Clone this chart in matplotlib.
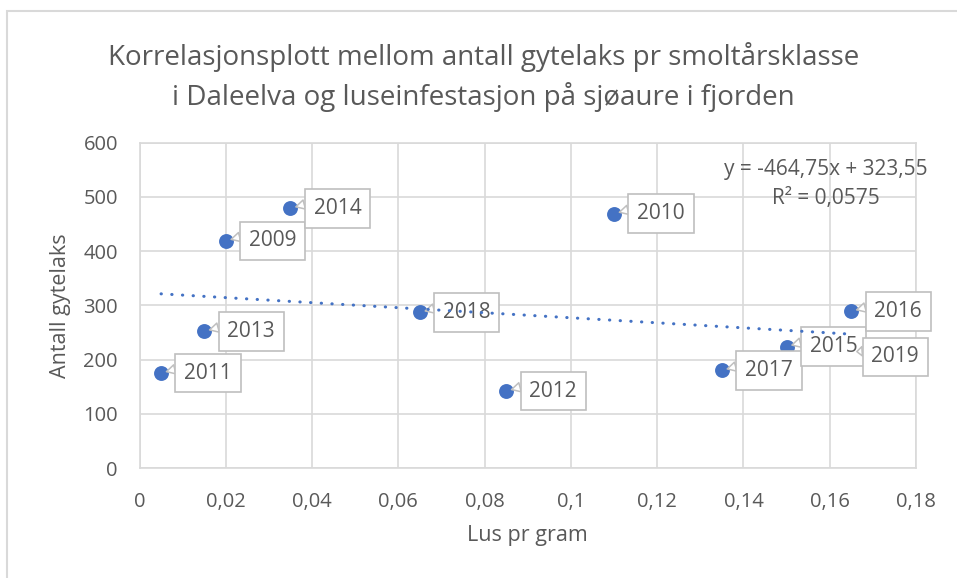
import numpy as np
import matplotlib
matplotlib.use('Agg')
import matplotlib.pyplot as plt
from matplotlib.patches import Rectangle

plt.rcParams['font.family'] = ['Open Sans', 'DejaVu Sans']

# Data
years = ['2011', '2013', '2009', '2014', '2018', '2012', '2010', '2017', '2015', '2016', '2019']
lus = [0.005, 0.015, 0.020, 0.035, 0.065, 0.085, 0.110, 0.135, 0.150, 0.165, 0.165]
gytelaks = [175, 252, 419, 479, 287, 142, 469, 180, 224, 289, 214]

# trendline as printed in the chart
slope = -464.75
intercept = 323.55
r2 = 0.0575

xticks = [0, 0.02, 0.04, 0.06, 0.08, 0.1, 0.12, 0.14, 0.16, 0.18]
yticks = [0, 100, 200, 300, 400, 500, 600]

blue = '#4472C4'
grid = '#d9d9d9'
txt = '#595959'

fig = plt.figure(figsize=(9.57, 5.78), dpi=100)
fig.patch.set_facecolor('white')
ax = fig.add_axes([139.5 / 957, 110 / 578, (916 - 139.5) / 957, (468 - 142.7) / 578])

# chart border (cropped at right and bottom)
fig.patches.append(Rectangle((7 / 957, -0.1), 1.2, (578 - 11) / 578 + 0.1,
                             transform=fig.transFigure, fill=False,
                             edgecolor='#d9d9d9', lw=1.5))

ax.set_xlim(0, 0.18)
ax.set_ylim(0, 600)
ax.set_xticks(xticks)
ax.set_yticks(yticks)
ax.set_xticklabels([('%g' % v).replace('.', ',') for v in xticks])
ax.set_yticklabels([str(v) for v in yticks])
ax.grid(True, color=grid, lw=1.2)
ax.set_axisbelow(True)
for s in ax.spines.values():
    s.set_color(grid)
    s.set_linewidth(1.2)
ax.tick_params(length=0, labelsize=14.5, colors=txt)
ax.tick_params(axis='x', pad=17)
ax.tick_params(axis='y', pad=15.5)

ax.scatter(lus, gytelaks, s=115, color=blue, zorder=3, linewidths=0)

offsets = {'2019': (44, -5)}
for yr, x, y in zip(years, lus, gytelaks):
    dx, dy = offsets.get(yr, (47, 0))
    ax.annotate(yr, (x, y), xytext=(dx, dy), textcoords='offset pixels',
                ha='center', va='center', fontsize=15, color=txt, zorder=4,
                bbox=dict(boxstyle='square,pad=0.42', fc='white', ec='#bfbfbf', lw=1.2),
                arrowprops=dict(arrowstyle='wedge,tail_width=0.45', fc='white',
                                ec='#bfbfbf', lw=1.1, shrinkA=0, shrinkB=4,
                                relpos=(0, 0.8)))

# trendline (drawn over the labels, as in the original)
tx = np.array([min(lus), max(lus)])
ax.plot(tx, slope * tx + intercept, color=blue, lw=2.2,
        linestyle=(0, (0.1, 3.4)), dash_capstyle='round', zorder=5)

ax.text(0.159, 551, ('y = %.2fx + %.2f' % (slope, intercept)).replace('.', ','),
        ha='center', va='center', fontsize=15, color=txt)
ax.text(0.159, 497, ('R² = %.4f' % r2).replace('.', ','),
        ha='center', va='center', fontsize=15, color=txt)

ax.set_xlabel('Lus pr gram', fontsize=15.5, color=txt, labelpad=10)
ax.set_ylabel('Antall gytelaks', fontsize=15.5, color=txt, labelpad=9)

fig.text(0.505, 1 - 57 / 578, 'Korrelasjonsplott mellom antall gytelaks pr smoltårsklasse',
         ha='center', va='center', fontsize=20, color=txt)
fig.text(0.505, 1 - 97 / 578, 'i Daleelva og luseinfestasjon på sjøaure i fjorden',
         ha='center', va='center', fontsize=20, color=txt)

fig.savefig('out.png', dpi=100)
